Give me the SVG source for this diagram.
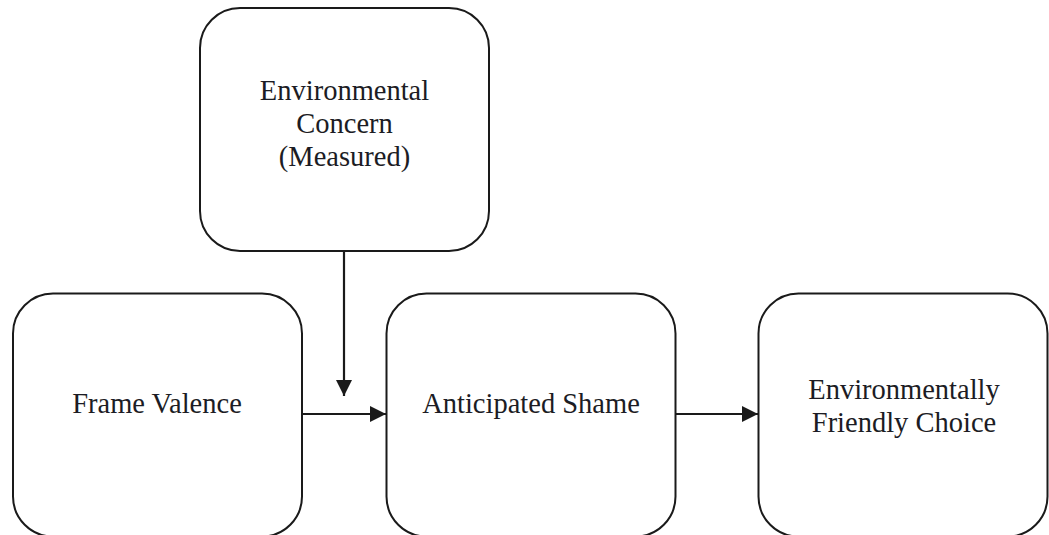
<svg xmlns="http://www.w3.org/2000/svg" width="1049" height="535" viewBox="0 0 1049 535">
  <style>
    .box { fill: #ffffff; stroke: #1a1a1a; stroke-width: 2; }
    .label { font-family: "Liberation Serif", "Times New Roman", serif; font-size: 28.5px; fill: #1c1c24; text-anchor: middle; }
    .edge { stroke: #1a1a1a; stroke-width: 2.2; fill: none; marker-end: url(#arrow); }
  </style>
  <defs>
    <marker id="arrow" viewBox="0 0 16 16" refX="16" refY="8" markerWidth="16" markerHeight="16" markerUnits="userSpaceOnUse" orient="auto">
      <path d="M0,0 L16,8 L0,16 Z" fill="#1a1a1a"/>
    </marker>
  </defs>
  <rect width="1049" height="535" fill="#ffffff"/>

  <g id="connectors">
    <line class="edge" x1="344" y1="251" x2="344" y2="396"/>
    <line class="edge" x1="302" y1="414" x2="386" y2="414"/>
    <line class="edge" x1="676" y1="414" x2="758" y2="414"/>
  </g>

  <g id="environmental-concern">
    <rect class="box" x="200" y="8" width="289" height="243" rx="40" ry="40"/>
    <text class="label" x="344.5" y="100">Environmental</text>
    <text class="label" x="344.5" y="133">Concern</text>
    <text class="label" x="344.5" y="166">(Measured)</text>
  </g>

  <g id="frame-valence">
    <rect class="box" x="13" y="293.5" width="289" height="243" rx="40" ry="40"/>
    <text class="label" x="157" y="413">Frame Valence</text>
  </g>

  <g id="anticipated-shame">
    <rect class="box" x="386.5" y="293.5" width="289" height="243" rx="40" ry="40"/>
    <text class="label" x="531" y="413">Anticipated Shame</text>
  </g>

  <g id="environmentally-friendly-choice">
    <rect class="box" x="758.5" y="293.5" width="289" height="243" rx="40" ry="40"/>
    <text class="label" x="904" y="399">Environmentally</text>
    <text class="label" x="904" y="432">Friendly Choice</text>
  </g>
</svg>
